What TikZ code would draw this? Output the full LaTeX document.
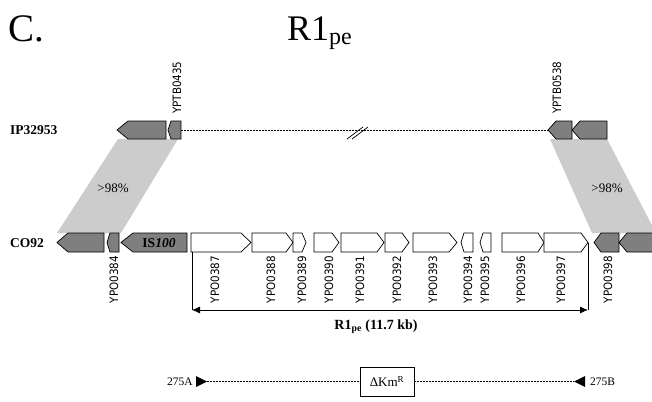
\documentclass[tikz,border=0pt]{standalone}
\usepackage{fontspec}
\setmainfont{Liberation Serif}
\newfontfamily\genefont{DejaVu Sans Condensed}
\usetikzlibrary{arrows.meta}
\definecolor{darkg}{HTML}{7F7F7F}
\definecolor{lightg}{HTML}{CCCCCC}
\newcommand\geneR[4]{\draw[#1] (#2,\gT) -- (#3,\gT) -- (#4,\gM) -- (#3,\gB) -- (#2,\gB) -- cycle;}
\newcommand\geneL[4]{\draw[#1] (#2,\gM) -- (#3,\gT) -- (#4,\gT) -- (#4,\gB) -- (#3,\gB) -- cycle;}
\begin{document}
\begin{tikzpicture}[x=1pt,y=-1pt,
  darkgene/.style={draw=black, fill=darkg, line width=0.7pt, line join=miter},
  whitegene/.style={draw=black, fill=white, line width=0.7pt, line join=miter},
  shade/.style={fill=lightg, draw=none},
  dashline/.style={draw=black, line width=0.6pt, dash pattern=on 2pt off 1pt},
  genelbl/.style={font=\genefont\fontsize{11.5}{13}\selectfont, rotate=90, inner sep=0pt},
  rowlbl/.style={font=\bfseries\fontsize{13.5}{15}\selectfont, anchor=west, inner sep=0pt},
  pct/.style={font=\fontsize{13}{15}\selectfont, inner sep=0pt},
  endlbl/.style={font=\fontsize{11.5}{13}\selectfont, inner sep=0pt},
  bracket/.style={draw=black, line width=0.8pt}]
\clip (0,0) rectangle (652,401);
\fill[white] (0,0) rectangle (652,401);

% titles
\node[anchor=base west, inner sep=0pt, font=\fontsize{39}{40}\selectfont] (ttlC) at (8,42) {C.};
\node[anchor=base west, inner sep=0pt, font=\fontsize{36}{40}\selectfont] (ttlR) at (287,41) {R1\raisebox{-4pt}{\fontsize{24}{24}\selectfont pe}};

% homology shading
\fill[shade] (118,139) -- (178,139) -- (121,233) -- (57,233) -- cycle;
\fill[shade] (550,139) -- (607,139) -- (656,233) -- (592,233) -- cycle;
\node[pct] (pL) at (113,188) {>98\%};
\node[pct] (pR) at (607,188) {>98\%};

% row labels
\node[rowlbl] (ip) at (10,130) {IP32953};
\node[rowlbl] (co) at (10,243) {CO92};

% top row
\def\gT{121}\def\gM{130}\def\gB{139}
\coordinate (t2r) at (181,130);
\coordinate (t3l) at (548,130);
\draw[dashline] (t2r) -- (t3l);
\draw[line width=0.7pt] (347,139) -- (363,127) (352,139) -- (368,127);
\geneL{darkgene}{117}{128}{166}
\geneL{darkgene}{168}{171}{181}
\geneL{darkgene}{548}{556}{572}
\geneL{darkgene}{572}{580}{607}
\node[genelbl, anchor=west] (y0435) at (177,114) {YPTB0435};
\node[genelbl, anchor=west] (y0538) at (557,114) {YPTB0538};

% bottom row
\def\gT{233}\def\gM{242.5}\def\gB{252}
\geneL{darkgene}{57}{68}{104}
\geneL{darkgene}{107}{110}{119}
\geneL{darkgene}{121}{133}{187}
\node[font=\bfseries\fontsize{13.5}{15}\selectfont, inner sep=0pt] (is) at (159,243) {IS\textit{100}};
\geneR{whitegene}{191}{241}{251}
\geneR{whitegene}{252}{286}{293}
\geneR{whitegene}{293}{302}{306}
\geneR{whitegene}{314}{332}{339}
\geneR{whitegene}{341}{377}{384}
\geneR{whitegene}{385}{402}{409}
\geneR{whitegene}{413}{449}{457}
\geneL{whitegene}{461}{464}{473}
\geneL{whitegene}{480}{483}{491}
\geneR{whitegene}{502}{538}{544}
\geneR{whitegene}{544}{581}{588}
\geneL{darkgene}{594}{601}{619}
\geneL{darkgene}{619}{627}{660}

\node[genelbl, anchor=east] (y0384) at (114,256) {YPO0384};
\node[genelbl, anchor=east] (y0387) at (215,256) {YPO0387};
\node[genelbl, anchor=east] (y0388) at (271,256) {YPO0388};
\node[genelbl, anchor=east] (y0389) at (302,256) {YPO0389};
\node[genelbl, anchor=east] (y0390) at (329,256) {YPO0390};
\node[genelbl, anchor=east] (y0391) at (360,256) {YPO0391};
\node[genelbl, anchor=east] (y0392) at (397,256) {YPO0392};
\node[genelbl, anchor=east] (y0393) at (433,256) {YPO0393};
\node[genelbl, anchor=east] (y0394) at (468,256) {YPO0394};
\node[genelbl, anchor=east] (y0395) at (485,256) {YPO0395};
\node[genelbl, anchor=east] (y0396) at (521,256) {YPO0396};
\node[genelbl, anchor=east] (y0397) at (561,256) {YPO0397};
\node[genelbl, anchor=east] (y0398) at (608,256) {YPO0398};

% R1pe bracket
\coordinate (bl) at (192,252);
\coordinate (br) at (588,243);
\coordinate (bl2) at (192,310);
\coordinate (br2) at (588,310);
\draw[bracket] (bl) -- (bl2);
\draw[bracket] (br) -- (br2);
\draw[bracket, {Latex[length=8pt,width=7pt]}-{Latex[length=8pt,width=7pt]}] (bl2) -- (br2);
\node[font=\bfseries\fontsize{14}{16}\selectfont, inner sep=0pt] (r1) at (376,327) {R1\textsubscript{pe} (11.7 kb)};

% deletion construct
\node[draw=black, line width=0.8pt, minimum width=54pt, minimum height=29pt, inner sep=0pt, font=\fontsize{13}{15}\selectfont] (km) at (387,381.5) {ΔKm\textsuperscript{R}};
\coordinate (ta) at (207,381.5);
\coordinate (tb) at (574,381.5);
\fill[black] (196,376) -- (ta) -- (196,387) -- cycle;
\fill[black] (585,376) -- (tb) -- (585,387) -- cycle;
\draw[dashline] (ta) -- (km.west);
\draw[dashline] (km.east) -- (tb);
\node[endlbl, anchor=east] (a275) at (193,381.5) {275A};
\node[endlbl, anchor=west] (b275) at (590,381.5) {275B};
\end{tikzpicture}
\end{document}
